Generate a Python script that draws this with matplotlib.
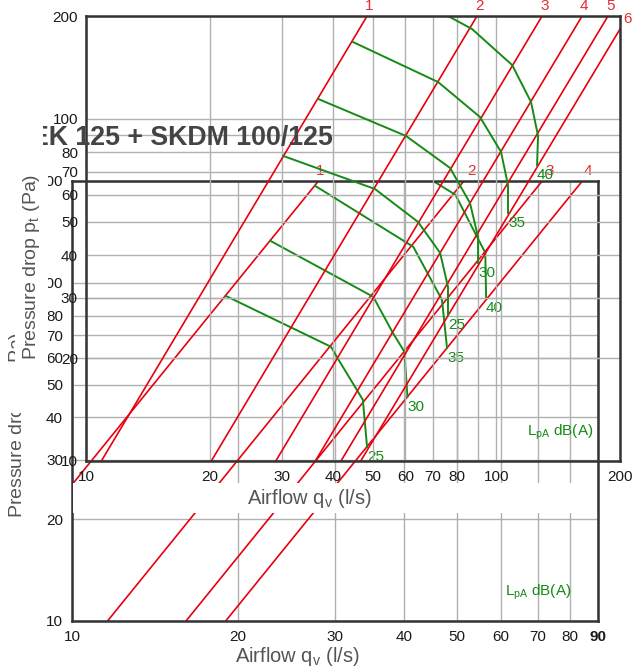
import matplotlib
matplotlib.use("Agg")
import matplotlib.pyplot as plt
from matplotlib.patches import Rectangle
from matplotlib.transforms import Bbox
from matplotlib.ticker import FixedLocator, FixedFormatter, NullLocator

plt.rcParams["font.family"] = ["Liberation Sans", "DejaVu Sans"]
plt.rcParams["mathtext.default"] = "regular"

W, H = 642, 671

# ---- chart A (upper, 10..200 l/s) ----
a_xticks = [10, 20, 30, 40, 50, 60, 70, 80, 90, 100, 200]
a_xlabels = ["10", "20", "30", "40", "50", "60", "70", "80", "", "100", "200"]
a_yticks = [10, 20, 30, 40, 50, 60, 70, 80, 90, 100, 200]
a_ylabels = ["10", "20", "30", "40", "50", "60", "70", "80", "", "100", "200"]

a_line_names = ["1", "2", "3", "4", "5", "6"]
a_line_q10 = [10.9, 20.2, 29.0, 36.2, 41.8, 46.7]        # airflow at 10 Pa
a_line_q200 = [48.4, 89.7, 129.2, 161.7, 187.0, 209.0]   # airflow at 200 Pa

a_levels = ["25", "30", "35", "40"]
a_q_25 = [30.2, 50.6, 64.4, 72.9, 76.2, 76.2]
a_p_25 = [78.0, 62.4, 50.0, 40.6, 32.3, 26.7]
a_q_30 = [36.8, 60.2, 77.1, 86.2, 90.2, 90.2]
a_p_30 = [114.4, 89.2, 71.9, 56.8, 45.2, 37.9]
a_q_35 = [44.7, 72.1, 91.2, 102.6, 106.7, 106.7]
a_p_35 = [167.9, 128.2, 101.3, 80.1, 64.1, 53.1]
a_q_40 = [76.2, 87.2, 109.2, 121.4, 126.3, 125.6]
a_p_40 = [200, 183.2, 143.8, 112.1, 89.2, 73.3]

# ---- chart B (lower, 10..90 l/s) ----
b_xticks = [10, 20, 30, 40, 50, 60, 70, 80, 90]
b_xlabels = ["10", "20", "30", "40", "50", "60", "70", "80", "90"]
b_yticks = [10, 20, 30, 40, 50, 60, 70, 80, 90, 100, 200]
b_ylabels = ["10", "20", "30", "40", "50", "60", "70", "80", "", "100", "200"]

b_line_names = ["1", "2", "3", "4"]
b_line_q10 = [6.3, 11.6, 16.1, 19.0]
b_line_q200 = [28.0, 51.4, 71.3, 84.3]

b_levels = ["25", "30", "35", "40"]
b_q_25 = [19.0, 29.5, 30.3, 33.7, 34.3]
b_p_25 = [91.5, 64.7, 60.0, 45.1, 32.7]
b_q_30 = [22.9, 35.2, 38.2, 40.1, 40.6]
b_p_30 = [133.1, 90.9, 71.1, 62.5, 46.0]
b_q_35 = [27.6, 41.6, 46.9, 47.9]
b_p_35 = [193.6, 127.8, 89.1, 64.2]
b_q_40 = [45.2, 49.6, 54.3, 56.2, 56.4]
b_p_40 = [200, 182.2, 136.8, 122.7, 90.3]

RED = "#e8000e"
RED_TXT = "#e52a30"
GREEN = "#168a16"
GRAY_TXT = "#555555"


def box(l, t, r, b):
    return [l / W, 1 - b / H, (r - l) / W, (b - t) / H]


def style(ax, xlim, xt, xl, yt, yl, xpad, ypad):
    ax.set_xscale("log")
    ax.set_yscale("log")
    ax.set_xlim(*xlim)
    ax.set_ylim(10, 200)
    ax.xaxis.set_major_locator(FixedLocator(xt))
    ax.xaxis.set_major_formatter(FixedFormatter(xl))
    ax.xaxis.set_minor_locator(NullLocator())
    ax.yaxis.set_major_locator(FixedLocator(yt))
    ax.yaxis.set_major_formatter(FixedFormatter(yl))
    ax.yaxis.set_minor_locator(NullLocator())
    ax.tick_params(axis="x", length=0, labelsize=11, labelcolor="#1a1a1a", pad=xpad)
    ax.tick_params(axis="y", length=0, labelsize=11, labelcolor="#1a1a1a", pad=ypad)
    ax.grid(True, color="#b0b0b0", linewidth=1.0)
    ax.set_axisbelow(True)
    for s in ax.spines.values():
        s.set_color("#333333")
        s.set_linewidth(1.8)


fig = plt.figure(figsize=(W / 100, H / 100), dpi=100)

axB = fig.add_axes(box(72, 181, 598, 621))
axA = fig.add_axes(box(86, 16, 620, 461))
axB.set_zorder(0)
axA.set_zorder(1)
axA.patch.set_alpha(0)

style(axB, (10, 90), b_xticks, b_xlabels, b_yticks, b_ylabels, 6.5, 6.5)
style(axA, (10, 200), a_xticks, a_xlabels, a_yticks, a_ylabels, 6.5, 5.8)

for lbl in axB.get_xticklabels():
    if lbl.get_text() == "90":
        lbl.set_fontweight("bold")

# red system lines + numbers
for ax, names, q10, q200, offs in [
    (axA, a_line_names, a_line_q10, a_line_q200, [(-2, 3)] * 5 + [(-5, -10)]),
    (axB, b_line_names, b_line_q10, b_line_q200, [(-3, 3), (3, 3), (3, 3), (1, 3)]),
]:
    for name, lo, hi, off in zip(names, q10, q200, offs):
        ax.plot([lo, hi], [10, 200], color=RED, lw=1.2, solid_capstyle="butt")
        ax.annotate(name, (hi, 200), xytext=off, textcoords="offset pixels",
                    ha="left", va="bottom", fontsize=11, color=RED_TXT,
                    annotation_clip=False)

# green sound level curves
a_curves = [(a_q_25, a_p_25), (a_q_30, a_p_30), (a_q_35, a_p_35), (a_q_40, a_p_40)]
b_curves = [(b_q_25, b_p_25), (b_q_30, b_p_30), (b_q_35, b_p_35), (b_q_40, b_p_40)]
for ax, levels, curves in [(axA, a_levels, a_curves), (axB, b_levels, b_curves)]:
    for lev, (qs, ps) in zip(levels, curves):
        ax.plot(qs, ps, color=GREEN, lw=1.4)
        ax.annotate(lev, (qs[-1], ps[-1]), xytext=(0, -3), textcoords="offset pixels",
                    ha="left", va="top", fontsize=11, color=GREEN)

axA.text(0.826, 0.056, "L$_{pA}$ dB(A)", transform=axA.transAxes,
         fontsize=11, color=GREEN, va="baseline")
axB.text(0.823, 0.057, "L$_{pA}$ dB(A)", transform=axB.transAxes,
         fontsize=11, color=GREEN, va="baseline")

# labels of the lower chart (sit under the upper chart's white areas)
fig.text(18 / W, 1 - 518 / H, "Pressure drop p$_t$ (Pa)", rotation=90,
         ha="center", va="bottom", fontsize=14, color=GRAY_TXT, zorder=0.5)
fig.text(297 / W, 1 - 657 / H, "Airflow q$_v$ (l/s)", ha="center", va="center",
         fontsize=14.5, color=GRAY_TXT, zorder=0.5)

# white parts of the upper chart
for l, t, r, b in [(73, 483, 597, 513), (15, 0, 48, 413), (4, 364, 15, 413)]:
    fig.add_artist(Rectangle((l / W, 1 - b / H), (r - l) / W, (b - t) / H,
                             transform=fig.transFigure, facecolor="white",
                             edgecolor="none", zorder=2))

# upper chart labels and title
fig.text(32 / W, 1 - 360 / H, "Pressure drop p$_t$ (Pa)", rotation=90,
         ha="center", va="bottom", fontsize=14, color=GRAY_TXT, zorder=3)
fig.text(309 / W, 1 - 499 / H, "Airflow q$_v$ (l/s)", ha="center", va="center",
         fontsize=14.5, color=GRAY_TXT, zorder=3)
title = fig.text(31 / W, 1 - 145 / H, "EK 125 + SKDM 100/125", ha="left",
                 va="baseline", fontsize=19.3, fontweight="bold", color="#444444",
                 zorder=3)
title.set_clip_box(Bbox.from_extents(43, 0, W, H))
title.set_clip_on(True)

fig.savefig("out.png", dpi=100)
